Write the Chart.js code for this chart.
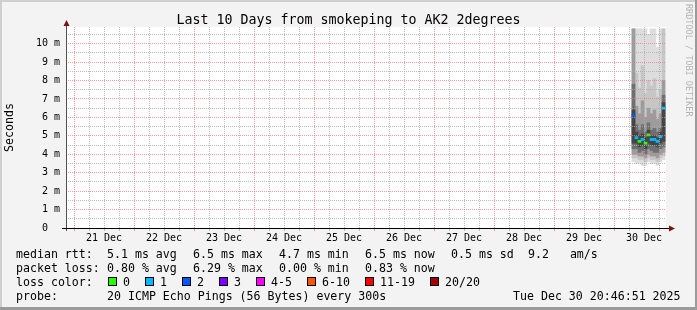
<!DOCTYPE html>
<html>
<head>
<meta charset="utf-8">
<script src="https://cdn.jsdelivr.net/npm/chart.js@4/dist/chart.umd.min.js"></script>
<style>
  html, body { margin: 0; padding: 0; background: #f3f3f3; }
  #wrap { width: 697px; height: 310px; }
</style>
</head>
<body>
<div id="wrap"><canvas id="smokeChart" width="697" height="310"></canvas></div>
<script>
// x values are hours since Sat Dec 20 20:46:51 (start of the 10 day window)
const firstMidnight = 3.219;
const windowHours = 240;
const dayLabels = ["21 Dec", "22 Dec", "23 Dec", "24 Dec", "25 Dec", "26 Dec", "27 Dec", "28 Dec", "29 Dec", "30 Dec"];
const yTickLabels = ["0  ", "1 m", "2 m", "3 m", "4 m", "5 m", "6 m", "7 m", "8 m", "9 m", "10 m"];
const yMax = 10.9;

// one entry per consolidated column (ms)
const colHours  = [227.0, 228.2, 229.4, 230.6, 231.8, 233.0, 234.2, 235.4, 236.6, 237.8, 239.0];
const medianMs  = [6.1, 4.9, 4.7, 4.8, 4.6, 5.05, 4.8, 4.8, 4.7, 4.95, 6.5];
const lossCount = [2, 1, 0, 1, 0, 0, 1, 1, 1, 1, 1];

const smokeMax = [10.8, 10.8, 10.8, 10.8, 10.8, 10.5, 10.8, 10.8, 9.8, 10.8, 10.8];
const smokeHi2 = [10.8, 8.4, 7.6, 8.8, 7.3, 8.0, 7.7, 8.1, 7.1, 7.5, 10.8];
const smokeHi3 = [10.8, 6.6, 6.2, 6.9, 6.0, 6.5, 6.2, 6.4, 5.9, 6.2, 8.0];
const smokeHi4 = [7.8, 5.6, 5.3, 5.6, 5.2, 5.7, 5.3, 5.4, 5.2, 5.4, 7.2];
const smokeHi5 = [6.4, 5.2, 5.0, 5.1, 4.9, 5.3, 5.0, 5.0, 4.9, 5.2, 6.8];
const smokeLo5 = [4.6, 4.6, 4.4, 4.5, 4.3, 4.6, 4.5, 4.5, 4.4, 4.6, 4.7];
const smokeLo4 = [4.3, 4.3, 4.1, 4.2, 4.0, 4.3, 4.2, 4.1, 4.1, 4.3, 4.4];
const smokeLo3 = [4.0, 4.0, 3.9, 3.9, 3.8, 4.0, 3.9, 3.9, 3.8, 4.0, 4.1];
const smokeLo2 = [3.8, 3.8, 3.7, 3.7, 3.6, 3.8, 3.7, 3.7, 3.6, 3.8, 3.9];
const smokeMin = [3.6, 3.5, 3.5, 3.4, 3.4, 3.6, 3.5, 3.5, 3.4, 3.6, 3.7];

const lossLabels = ["0", "1", "2", "3", "4-5", "6-10", "11-19", "20/20"];
const lossColors = ["#26ff00", "#00b8ff", "#0059ff", "#7e00ff", "#ff00ff", "#ff5500", "#ff0000", "#a10000"];

const rttStats  = ["5.1 ms avg", "6.5 ms max", "4.7 ms min", "6.5 ms now", "0.5 ms sd", "9.2   am/s"];
const lossStats = ["0.80 % avg", "6.29 % max", "0.00 % min", "0.83 % now"];
const probeText = "20 ICMP Echo Pings (56 Bytes) every 300s";
const stampText = "Tue Dec 30 20:46:51 2025";
const titleText = "Last 10 Days from smokeping to AK2 2degrees";

const MONO = "'DejaVu Sans Mono', monospace";

function lossIndex(n) {
    if (n <= 3) return n;
    if (n <= 5) return 4;
    if (n <= 10) return 5;
    if (n <= 19) return 6;
    return 7;
}

// higher order is drawn further back
function band(lo, hi, color, order) {
    return {
        type: "bar",
        order: order,
        data: colHours.map((h, i) => ({ x: h, y: [lo[i], hi[i]] })),
        backgroundColor: color,
        borderWidth: 0,
        grouped: false,
        barPercentage: 1,
        categoryPercentage: 1
    };
}

const datasets = [
    band(smokeMin, smokeMax, "#dddddd", 6),
    band(smokeLo2, smokeHi2, "#c6c6c6", 5),
    band(smokeLo3, smokeHi3, "#9c9c9c", 4),
    band(smokeLo4, smokeHi4, "#707070", 3),
    band(smokeLo5, smokeHi5, "#454545", 2),
    {
        type: "bar",
        order: 1,
        data: colHours.map((h, i) => ({ x: h, y: [medianMs[i] - 0.06, medianMs[i] + 0.06] })),
        backgroundColor: lossCount.map(n => lossColors[lossIndex(n)]),
        borderWidth: 0,
        grouped: false,
        barPercentage: 1,
        categoryPercentage: 1
    }
];

const rrdPlugin = {
    id: "rrdFrame",
    beforeDraw(chart) {
        const { ctx, chartArea: a, width, height } = chart;
        ctx.save();
        ctx.fillStyle = "#f3f3f3";
        ctx.fillRect(0, 0, width, height);
        ctx.fillStyle = "#cfcfcf";
        ctx.fillRect(0, 0, width, 2);
        ctx.fillRect(0, 0, 2, height);
        ctx.fillStyle = "#9b9b9b";
        ctx.fillRect(width - 2, 0, 2, height);
        ctx.fillRect(0, height - 3, width, 3);
        ctx.fillStyle = "#ffffff";
        ctx.fillRect(a.left, a.top, a.right - a.left, a.bottom - a.top);
        ctx.restore();
    },
    afterDraw(chart) {
        const { ctx, chartArea: a, width } = chart;
        ctx.save();

        // axes
        const x0 = a.left + 0.5, yb = a.bottom + 0.5;
        ctx.lineWidth = 1;
        ctx.strokeStyle = "#505050";
        ctx.beginPath();
        ctx.moveTo(x0, a.bottom + 3);
        ctx.lineTo(x0, a.top - 3);
        ctx.stroke();
        ctx.strokeStyle = "#000000";
        ctx.beginPath();
        ctx.moveTo(a.left - 4, yb);
        ctx.lineTo(a.right + 4, yb);
        ctx.stroke();
        ctx.fillStyle = "#7f1010";
        ctx.beginPath();
        ctx.moveTo(x0 - 3, a.top - 1);
        ctx.lineTo(x0, a.top - 7);
        ctx.lineTo(x0 + 3, a.top - 1);
        ctx.closePath();
        ctx.fill();
        ctx.beginPath();
        ctx.moveTo(a.right + 3, yb - 3);
        ctx.lineTo(a.right + 9, yb);
        ctx.lineTo(a.right + 3, yb + 3);
        ctx.closePath();
        ctx.fill();

        // title
        ctx.fillStyle = "#000000";
        ctx.font = "13.3px " + MONO;
        ctx.textAlign = "center";
        ctx.textBaseline = "alphabetic";
        ctx.fillText(titleText, width / 2, 24);

        // legend block
        ctx.font = "11.6px " + MONO;
        ctx.textAlign = "left";
        const colX = [107, 193, 279, 365, 451, 528];
        ctx.fillText("median rtt:", 16, 258);
        rttStats.forEach((t, i) => ctx.fillText(t, colX[i], 258));
        ctx.fillText("packet loss:", 16, 272);
        lossStats.forEach((t, i) => ctx.fillText(t, colX[i], 272));
        ctx.fillText("loss color:", 16, 286);
        const swX = [108, 145, 182, 219, 256, 307, 365, 430];
        lossLabels.forEach((t, i) => {
            ctx.fillStyle = "#000000";
            ctx.fillRect(swX[i], 277, 9, 9);
            ctx.fillStyle = lossColors[i];
            ctx.fillRect(swX[i] + 1, 278, 7, 7);
            ctx.fillStyle = "#000000";
            ctx.fillText(t, swX[i] + 15, 286);
        });
        ctx.fillText("probe:", 16, 300);
        ctx.fillText(probeText, 107, 300);
        ctx.fillText(stampText, 513, 300);

        // watermark
        ctx.translate(688, 4);
        ctx.rotate(Math.PI / 2);
        ctx.font = "8.5px " + MONO;
        ctx.fillStyle = "#b4b4b4";
        ctx.textBaseline = "middle";
        ctx.fillText("RRDTOOL / TOBI OETIKER", 0, 0);
        ctx.restore();
    }
};

const xGridHours = [];
for (let h = firstMidnight; h < windowHours; h += 6) xGridHours.push(h);

const gridRed = "rgba(240, 120, 120, 0.75)";
const gridGray = "rgba(170, 170, 170, 0.8)";

new Chart(document.getElementById("smokeChart"), {
    type: "bar",
    data: { datasets },
    plugins: [rrdPlugin],
    options: {
        responsive: false,
        animation: false,
        events: [],
        layout: { padding: { top: 27, right: 31, left: 0, bottom: 0 } },
        plugins: {
            legend: { display: false },
            tooltip: { enabled: false }
        },
        scales: {
            x: {
                type: "linear",
                min: 0,
                max: windowHours,
                offset: false,
                afterFit: scale => { scale.height = 82; },
                afterBuildTicks: scale => {
                    scale.ticks = xGridHours.map(v => ({ value: v }));
                },
                ticks: {
                    autoSkip: false,
                    maxRotation: 0,
                    padding: 1,
                    color: "#000000",
                    font: { family: MONO, size: 10 },
                    callback: (value, index) => (index % 4 === 2 ? dayLabels[(index - 2) / 4] : "")
                },
                grid: {
                    z: 1,
                    offset: false,
                    drawTicks: true,
                    tickLength: 3,
                    color: ctx => (ctx.index % 4 === 0 ? gridRed : gridGray)
                },
                border: { display: false, dash: [1, 1] }
            },
            y: {
                min: 0,
                max: yMax,
                afterFit: scale => { scale.width = 66; },
                afterBuildTicks: scale => {
                    const t = [];
                    for (let i = 0; i < yTickLabels.length; i++) {
                        t.push({ value: i });
                        if (i + 0.5 < yMax) t.push({ value: i + 0.5 });
                    }
                    scale.ticks = t;
                },
                title: {
                    display: true,
                    text: "Seconds",
                    color: "#000000",
                    font: { family: MONO, size: 11.6 },
                    padding: { top: 3, bottom: 0 }
                },
                ticks: {
                    autoSkip: false,
                    padding: 6,
                    color: "#000000",
                    font: { family: MONO, size: 10 },
                    callback: value => (Number.isInteger(value) ? yTickLabels[value] : "")
                },
                grid: {
                    z: 1,
                    drawTicks: false,
                    color: ctx => {
                        const v = ctx.tick ? ctx.tick.value : 0;
                        if (v === 0) return "rgba(0,0,0,0)";
                        return Number.isInteger(v) ? gridRed : gridGray;
                    }
                },
                border: { display: false, dash: [1, 1] }
            }
        }
    }
});
</script>
</body>
</html>
